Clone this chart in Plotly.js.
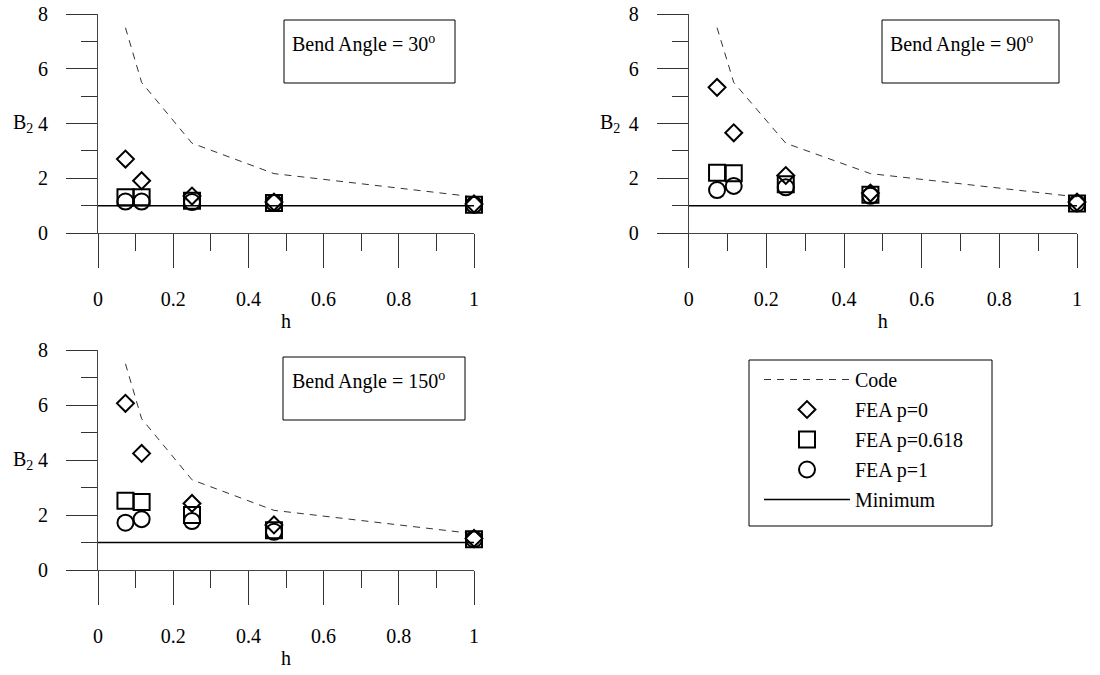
<!DOCTYPE html>
<html>
<head>
<meta charset="utf-8">
<script src="https://cdn.plot.ly/plotly-3.0.1.min.js"></script>
<style>html,body{margin:0;padding:0;background:#fff;}#chart{width:1100px;height:675px;}</style>
</head>
<body>
<div id="chart"></div>
<script>
// ---- data ----
const hValues = [0.073, 0.116, 0.25, 0.468, 1.0];
const codeB2 = [7.5, 5.5, 3.28, 2.17, 1.32];
const minX = [0, 1];
const minY = [1, 1];

const angle30_p0 = [2.70, 1.91, 1.35, 1.13, 1.06];
const angle30_p0618 = [1.31, 1.31, 1.18, 1.10, 1.03];
const angle30_p1 = [1.15, 1.15, 1.13, 1.10, 1.03];

const angle90_p0 = [5.32, 3.66, 2.10, 1.46, 1.13];
const angle90_p0618 = [2.20, 2.18, 1.78, 1.40, 1.08];
const angle90_p1 = [1.57, 1.72, 1.67, 1.36, 1.08];

const angle150_p0 = [6.06, 4.24, 2.42, 1.64, 1.15];
const angle150_p0618 = [2.52, 2.47, 2.00, 1.45, 1.12];
const angle150_p1 = [1.72, 1.85, 1.78, 1.39, 1.12];

const panelTitles = ['Bend Angle = 30<sup>o</sup>', 'Bend Angle = 90<sup>o</sup>', 'Bend Angle = 150<sup>o</sup>'];
const seriesNames = ['Code', 'FEA p=0', 'FEA p=0.618', 'FEA p=1', 'Minimum'];
const xTickVals = [0, 0.2, 0.4, 0.6, 0.8, 1];
const xTickText = ['0', '0.2', '0.4', '0.6', '0.8', '1'];
const yTickVals = [0, 2, 4, 6, 8];

// ---- build ----
const FONT = "'Liberation Serif', 'Times New Roman', serif";
const panels = [
  {ax: '', p0: angle30_p0, p618: angle30_p0618, p1: angle30_p1},
  {ax: '2', p0: angle90_p0, p618: angle90_p0618, p1: angle90_p1},
  {ax: '3', p0: angle150_p0, p618: angle150_p0618, p1: angle150_p1}
];

const traces = [];
panels.forEach((p, i) => {
  const xa = 'x' + p.ax, ya = 'y' + p.ax;
  const show = i === 0;
  traces.push({x: hValues, y: codeB2, xaxis: xa, yaxis: ya, type: 'scatter', mode: 'lines',
    name: seriesNames[0], legendgroup: 'g0', showlegend: show, cliponaxis: false,
    line: {color: '#333', width: 1, dash: '7px,6px'}});
  traces.push({x: hValues, y: p.p0, xaxis: xa, yaxis: ya, type: 'scatter', mode: 'markers',
    name: seriesNames[1], legendgroup: 'g1', showlegend: show, cliponaxis: false,
    marker: {symbol: 'diamond-open', size: 13, color: '#000', line: {width: 2, color: '#000'}}});
  traces.push({x: hValues, y: p.p618, xaxis: xa, yaxis: ya, type: 'scatter', mode: 'markers',
    name: seriesNames[2], legendgroup: 'g2', showlegend: show, cliponaxis: false,
    marker: {symbol: 'square-open', size: 16, color: '#000', line: {width: 2, color: '#000'}}});
  traces.push({x: hValues, y: p.p1, xaxis: xa, yaxis: ya, type: 'scatter', mode: 'markers',
    name: seriesNames[3], legendgroup: 'g3', showlegend: show, cliponaxis: false,
    marker: {symbol: 'circle-open', size: 16, color: '#000', line: {width: 2, color: '#000'}}});
  traces.push({x: minX, y: minY, xaxis: xa, yaxis: ya, type: 'scatter', mode: 'lines',
    name: seriesNames[4], legendgroup: 'g4', showlegend: show, cliponaxis: false,
    line: {color: '#000', width: 1.5}});
});

function xAxis(domain, anchor) {
  return {
    domain: domain, anchor: anchor, range: [0, 1], showgrid: false, zeroline: false,
    showline: true, linecolor: '#444', linewidth: 1,
    ticks: 'outside', ticklen: 34, tickwidth: 1, tickcolor: '#333',
    tickvals: xTickVals, ticktext: xTickText, ticklabelstandoff: 14,
    minor: {ticks: 'outside', ticklen: 17, tickwidth: 1, tickcolor: '#333', dtick: 0.1, tick0: 0},
    tickfont: {family: FONT, size: 20, color: '#000'},
    title: {text: 'h', font: {family: FONT, size: 20, color: '#000'}, standoff: 4},
    fixedrange: true
  };
}
function yAxis(domain, anchor) {
  return {
    domain: domain, anchor: anchor, range: [0, 8], showgrid: false, zeroline: false,
    showline: true, linecolor: '#444', linewidth: 1,
    ticks: 'outside', ticklen: 31, tickwidth: 1, tickcolor: '#333',
    tickvals: yTickVals, ticklabelstandoff: 14,
    minor: {ticks: 'outside', ticklen: 16, tickwidth: 1, tickcolor: '#333', dtick: 1, tick0: 0},
    tickfont: {family: FONT, size: 20, color: '#000'},
    fixedrange: true
  };
}
const W = 1100, H = 675;
const px = v => v / W, py = v => 1 - v / H;

const boxes = [
  {x0: 284, x1: 455, y0: 20, y1: 83, tx: 290, ty: 43},
  {x0: 882, x1: 1059, y0: 20, y1: 83, tx: 888, ty: 43},
  {x0: 283, x1: 465, y0: 357, y1: 420, tx: 290, ty: 380}
];
const shapes = boxes.map(b => ({type: 'rect', xref: 'paper', yref: 'paper',
  x0: px(b.x0), x1: px(b.x1), y0: py(b.y1), y1: py(b.y0), line: {color: '#000', width: 1}}));
// legend frame
shapes.push({type: 'rect', xref: 'paper', yref: 'paper',
  x0: px(749), x1: px(992), y0: py(526), y1: py(360), line: {color: '#000', width: 1}});

const annotations = boxes.map((b, i) => ({xref: 'paper', yref: 'paper', x: px(b.tx), y: py(b.ty),
  xanchor: 'left', yanchor: 'middle', showarrow: false, text: panelTitles[i],
  font: {family: FONT, size: 20, color: '#000'}}));
[['', 11], ['2', 598], ['3', 11]].forEach(([ax, xp]) => {
  annotations.push({xref: 'paper', yref: 'y' + ax, x: px(xp), y: 4, xanchor: 'left', yanchor: 'middle',
    showarrow: false, text: 'B<sub>2</sub>', font: {family: FONT, size: 20, color: '#000'}});
});

const layout = {
  width: W, height: H, margin: {l: 0, r: 0, t: 0, b: 0},
  paper_bgcolor: '#fff', plot_bgcolor: 'rgba(0,0,0,0)',
  font: {family: FONT, size: 20, color: '#000'},
  xaxis: xAxis([px(98), px(474)], 'y'),
  yaxis: yAxis([py(233), py(14)], 'x'),
  xaxis2: xAxis([px(688.7), px(1077)], 'y2'),
  yaxis2: yAxis([py(233), py(14)], 'x2'),
  xaxis3: xAxis([px(98), px(474)], 'y3'),
  yaxis3: yAxis([py(570), py(350)], 'x3'),
  showlegend: true,
  legend: {x: px(759), y: py(360), xanchor: 'left', yanchor: 'top',
    borderwidth: 0, bgcolor: 'rgba(0,0,0,0)', itemwidth: 86,
    tracegroupgap: 1, traceorder: 'grouped',
    font: {family: FONT, size: 20, color: '#000'}},
  shapes: shapes,
  annotations: annotations
};

Plotly.newPlot('chart', traces, layout, {displayModeBar: false, staticPlot: true});
</script>
</body>
</html>
